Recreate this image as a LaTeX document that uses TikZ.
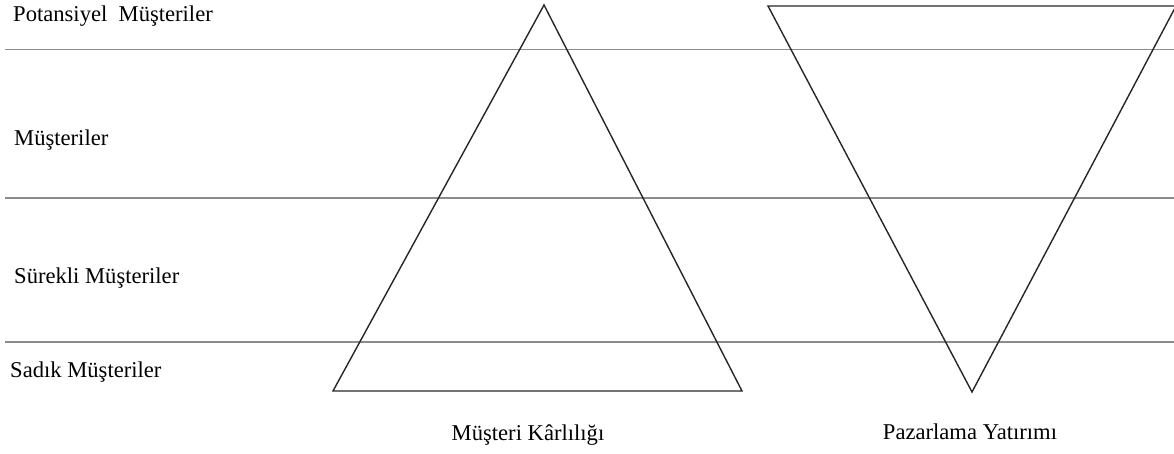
\documentclass[tikz,border=0pt]{standalone}
\usepackage{fontspec}
\setmainfont{Liberation Serif}
\usetikzlibrary{positioning}

\begin{document}
\begin{tikzpicture}[x=1pt, y=-1pt,
    lbl/.style={anchor=base west, inner sep=0pt, font=\fontsize{22.6}{24}\selectfont},
    title/.style={anchor=base, inner sep=0pt, font=\fontsize{22.6}{24}\selectfont},
    band/.style={draw=black!45, line width=1.4pt},
    tri/.style={draw=black!85, line width=1.4pt, line join=miter}]
    \useasboundingbox (0,0) rectangle (1174,454);
    % band lines
    \draw[band] (5,49.5) -- (1174,49.5);
    \draw[band] (5,198) -- (1174,198);
    \draw[band] (5,342) -- (1174,342);
    % triangles
    \draw[tri] (544,5) -- (742,391) -- (333,391) -- cycle;
    \draw[tri] (768,6) -- (1176,6) -- (972,392) -- cycle;
    % labels
    \node[lbl] (pot) at (13,22) {Potansiyel\ \ Müşteriler};
    \node[lbl] (mus) at (14,146) {Müşteriler};
    \node[lbl] (sur) at (14,283) {Sürekli Müşteriler};
    \node[lbl] (sad) at (10,377) {Sadık Müşteriler};
    \node[title] (kar) at (528,440) {Müşteri Kârlılığı};
    \node[title] (yat) at (970,439) {Pazarlama Yatırımı};
\end{tikzpicture}
\end{document}
